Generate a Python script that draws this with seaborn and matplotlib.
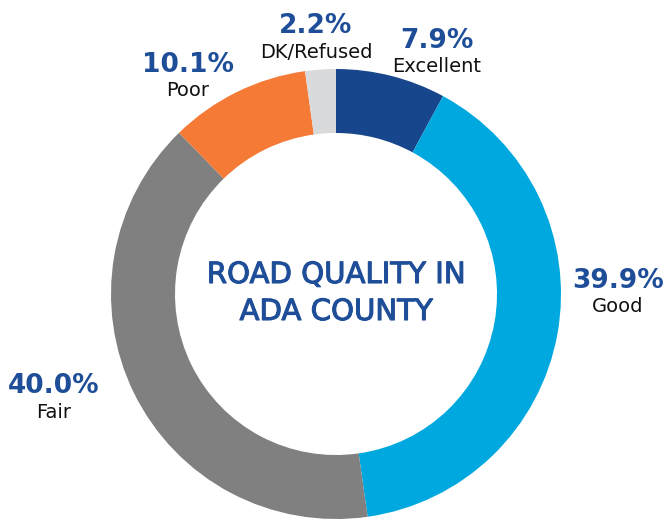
import matplotlib
matplotlib.use('Agg')
import matplotlib.pyplot as plt
import matplotlib.patheffects as pe
import seaborn as sns

categories = ['Excellent', 'Good', 'Fair', 'Poor', 'DK/Refused']
values = [7.9, 39.9, 40.0, 10.1, 2.2]
pct_labels = ['7.9%', '39.9%', '40.0%', '10.1%', '2.2%']
colors = ['#18468c', '#00a8e0', '#808080', '#f47a36', '#d9dadb']
title_lines = ['ROAD QUALITY IN', 'ADA COUNTY']

sns.set_theme(style = 'white')
plt.rcParams['font.family'] = ['DejaVu Sans']

W, H = 667, 523
fig = plt.figure(figsize = (W/100, H/100), dpi = 100)
ax = fig.add_axes([0, 0, 1, 1])

cx, cy, r = 336, H - 294, 225
ax.pie(values, colors = colors, startangle = 90, counterclock = False, center = (cx, cy), radius = r,
       wedgeprops = dict(width = 64, linewidth = 0), frame = True)
ax.set_xlim(0, W); ax.set_ylim(0, H)
ax.set_aspect('equal')
ax.axis('off')

blue = '#1f4e99'
# baseline of the percentage line, in pixels from the top
pos = {'Excellent': (437, 48), 'Good': (618, 288), 'Fair': (54, 393), 'Poor': (188, 72), 'DK/Refused': (316, 33)}
for cat, p in zip(categories, pct_labels):
    x, y = pos[cat]
    ax.text(x, H - y, p, ha = 'center', va = 'baseline', fontsize = 19, fontweight = 'bold', color = blue)
    ax.text(x, H - y - 24.5, cat, ha = 'center', va = 'baseline', fontsize = 14, color = '#111111')

for line, y in zip(title_lines, [283, 320]):
    ax.text(cx, H - y, line, ha = 'center', va = 'baseline', fontsize = 21, color = blue,
            path_effects = [pe.withStroke(linewidth = 0.8, foreground = blue)])

fig.savefig('out.png', dpi = 100)
